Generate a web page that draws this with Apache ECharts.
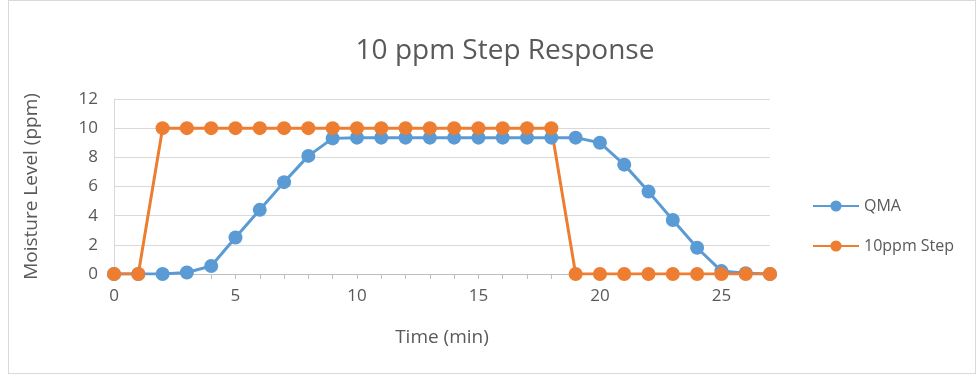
<!DOCTYPE html>
<html>
<head>
<meta charset="utf-8">
<script src="https://cdn.jsdelivr.net/npm/echarts@6/dist/echarts.min.js"></script>
<style>
  html, body { margin: 0; padding: 0; background: #fff; }
  #chart { width: 980px; height: 375px; }
  #frame { position: absolute; left: 8px; top: 0; width: 966px; height: 372px; border: 1px solid #d9d9d9; pointer-events: none; }
</style>
</head>
<body>
<div id="chart"></div>
<div id="frame"></div>
<script>
// time in minutes, one sample per minute
var times = [0, 1, 2, 3, 4, 5, 6, 7, 8, 9, 10, 11, 12, 13, 14, 15, 16, 17, 18, 19, 20, 21, 22, 23, 24, 25, 26, 27]
var qma = [0, 0, 0, 0.1, 0.55, 2.5, 4.4, 6.3, 8.1, 9.3, 9.35, 9.35, 9.35, 9.35, 9.35, 9.35, 9.35, 9.35, 9.35, 9.35, 9.0, 7.5, 5.65, 3.7, 1.8, 0.2, 0.05, 0]
var step = [0, 0, 10, 10, 10, 10, 10, 10, 10, 10, 10, 10, 10, 10, 10, 10, 10, 10, 10, 0, 0, 0, 0, 0, 0, 0, 0, 0]
var seriesNames = ['QMA', '10ppm Step']
var colors = ['#5b9bd5', '#ed7d31']

var font = 'Open Sans'
var textColor = '#595959'

var chart = echarts.init(document.getElementById('chart'))
chart.setOption({
  backgroundColor: '#fff',
  textStyle: { fontFamily: font, color: textColor },
  title: {
    text: '10 ppm Step Response',
    left: 500,
    textAlign: 'center',
    top: 32,
    textStyle: { fontFamily: font, fontSize: 28, fontWeight: 'normal', color: textColor }
  },
  legend: {
    orient: 'vertical',
    left: 807,
    top: 193,
    itemWidth: 46,
    itemHeight: 14,
    itemGap: 24,
    textStyle: { fontFamily: font, fontSize: 16, color: textColor },
    data: seriesNames
  },
  grid: { left: 114, right: 210, top: 99, bottom: 101 },
  xAxis: {
    type: 'category',
    data: times,
    boundaryGap: false,
    name: 'Time (min)',
    nameLocation: 'middle',
    nameGap: 54,
    nameTextStyle: { fontFamily: font, fontSize: 19, color: textColor },
    axisLine: { lineStyle: { color: '#bfbfbf', width: 1 } },
    axisTick: { show: true, interval: 0, length: 5, lineStyle: { color: '#bfbfbf' } },
    axisLabel: {
      interval: 4,
      margin: 14,
      fontFamily: font,
      fontSize: 17,
      color: textColor
    },
    splitLine: { show: false }
  },
  yAxis: {
    type: 'value',
    min: 0,
    max: 12,
    interval: 2,
    name: 'Moisture Level (ppm)',
    nameLocation: 'middle',
    nameGap: 73,
    nameTextStyle: { fontFamily: font, fontSize: 19, color: textColor },
    axisLine: { show: true, lineStyle: { color: '#d9d9d9' } },
    axisTick: { show: false },
    axisLabel: { margin: 16, fontFamily: font, fontSize: 17, color: textColor },
    splitLine: { lineStyle: { color: '#d9d9d9', width: 1 } }
  },
  series: [
    {
      name: seriesNames[0],
      type: 'line',
      data: qma,
      color: colors[0],
      symbol: 'circle',
      symbolSize: 14,
      lineStyle: { width: 3 },
      animation: false
    },
    {
      name: seriesNames[1],
      type: 'line',
      data: step,
      color: colors[1],
      symbol: 'circle',
      symbolSize: 14,
      lineStyle: { width: 3 },
      animation: false
    }
  ]
})
</script>
</body>
</html>
